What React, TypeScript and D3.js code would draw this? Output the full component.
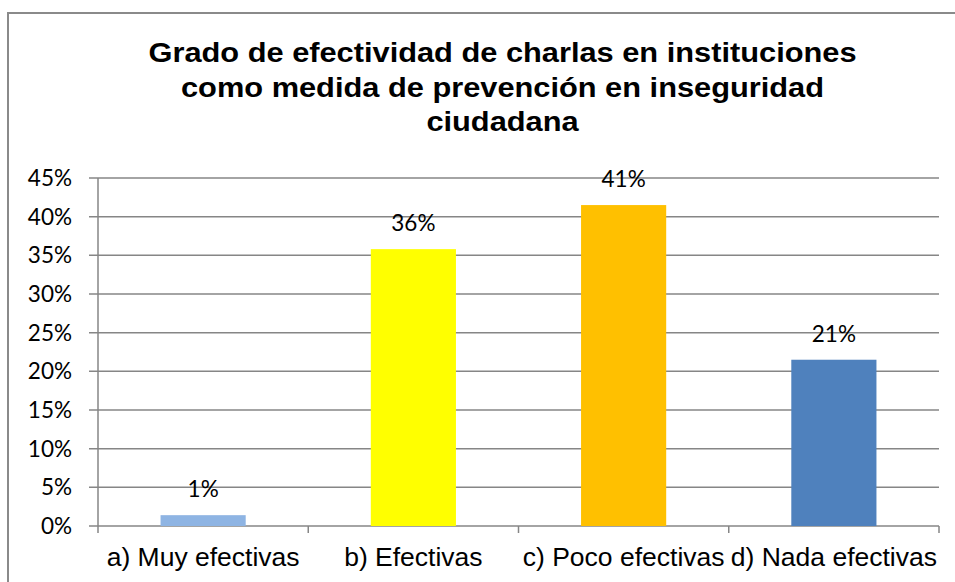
import React from "react";
import * as d3 from "d3";

const categories = ["a) Muy efectivas", "b) Efectivas", "c) Poco efectivas", "d) Nada efectivas"];
const values = [0.014, 0.358, 0.415, 0.215];
const valueLabels = ["1%", "36%", "41%", "21%"];
const barColors = ["#8EB4E3", "#FFFF00", "#FFC000", "#4F81BD"];
const yTicks = [0, 0.05, 0.1, 0.15, 0.2, 0.25, 0.3, 0.35, 0.4, 0.45];
const titleLines = [
  "Grado de efectividad de charlas en instituciones",
  "como medida de prevención en inseguridad",
  "ciudadana",
];

export default function App() {
  const W = 955, H = 582;
  const y = d3.scaleLinear().domain([0, 0.45]).range([526, 178]);
  const x = d3.scaleBand<string>().domain(categories).range([98, 939]).paddingInner(0.595).paddingOuter(0.2975);
  const step = x.step();
  const fmt = d3.format(".0%");
  const grid = "#868686";
  const sideFont = "Lato, 'Open Sans', sans-serif";
  const arial = "Arial, 'Liberation Sans', sans-serif";
  const sx = 1.08;
  return (
    <div style={{ position: "absolute", left: 0, top: 0 }}>
      <svg width={W} height={H} style={{ display: "block", background: "#fff" }}>
        <rect x={8} y={13} width={960} height={600} fill="#fff" stroke="#8a8a8a" strokeWidth={2} />
        {titleLines.map((t, i) => (
          <text key={i} transform={`translate(502.5,${62 + i * 34.5}) scale(${sx},1)`} textAnchor="middle" fontFamily={arial} fontWeight="bold" fontSize={28.5} fill="#000">{t}</text>
        ))}
        {yTicks.map((t) => (
          <g key={t}>
            <line x1={89} x2={939} y1={y(t)} y2={y(t)} stroke={grid} strokeWidth={1.5} />
            <text x={72} y={y(t)} dy="0.36em" textAnchor="end" fontFamily={sideFont} fontSize={22.5} fill="#000">{fmt(t)}</text>
          </g>
        ))}
        <line x1={98} x2={98} y1={178} y2={533} stroke={grid} strokeWidth={1.5} />
        {categories.map((c, i) => (
          <line key={"t" + i} x1={98 + step * (i + 1)} x2={98 + step * (i + 1)} y1={526} y2={533} stroke={grid} strokeWidth={1.5} />
        ))}
        {categories.map((c, i) => (
          <g key={c}>
            <rect x={x(c)} y={y(values[i])} width={x.bandwidth()} height={y(0) - y(values[i])} fill={barColors[i]} />
            <text x={(x(c) as number) + x.bandwidth() / 2} y={y(values[i]) - 18} textAnchor="middle" fontFamily={sideFont} fontSize={22.5} fill="#000">{valueLabels[i]}</text>
            <text x={(x(c) as number) + x.bandwidth() / 2} y={566} textAnchor="middle" fontFamily={arial} fontSize={26.5} fill="#000">{c}</text>
          </g>
        ))}
      </svg>
    </div>
  );
}
